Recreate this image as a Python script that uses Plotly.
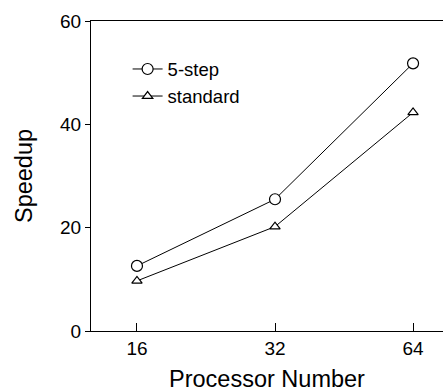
import math
import plotly.graph_objects as go

processors = [16, 32, 64]
speedup_5step = [12.6, 25.5, 51.8]
speedup_standard = [9.7, 20.2, 42.3]
x_tick_labels = ["16", "32", "64"]
y_ticks = [0, 20, 40, 60]

FONT = "Liberation Sans, Arial, sans-serif"

fig = go.Figure()
fig.add_trace(go.Scatter(
    x=processors, y=speedup_5step, name="5-step", mode="lines+markers",
    line=dict(color="black", width=1),
    marker=dict(symbol="circle", size=11, color="white", line=dict(color="black", width=1.2)),
))
fig.add_trace(go.Scatter(
    x=processors, y=speedup_standard, name="standard", mode="lines+markers",
    line=dict(color="black", width=1),
    marker=dict(symbol="triangle-up", size=9, color="white", line=dict(color="black", width=1.2)),
))

lo = math.log10(2 ** 3.667)
hi = math.log10(2 ** 6.217)

fig.update_layout(
    width=443, height=392,
    margin=dict(l=91, r=0, t=21, b=61, autoexpand=False),
    paper_bgcolor="white", plot_bgcolor="white",
    font=dict(family=FONT, color="black", size=19),
    showlegend=True,
    legend=dict(x=0.104, y=0.905, xanchor="left", yanchor="top",
                bgcolor="rgba(0,0,0,0)", borderwidth=0,
                font=dict(size=18.5), tracegroupgap=0, itemwidth=30),
    xaxis=dict(type="log", range=[lo, hi], tickvals=processors, ticktext=x_tick_labels,
               showgrid=False, zeroline=False, showline=True, linecolor="black", linewidth=1.2,
               mirror=True, ticks="inside", ticklen=8, tickcolor="black", automargin=False,
               title=dict(text="Processor Number", font=dict(size=23.5), standoff=12)),
    yaxis=dict(range=[0, 60], tickvals=y_ticks, showgrid=False, zeroline=False,
               showline=True, linecolor="black", linewidth=1.2, mirror=False,
               ticks="outside", ticklen=5, tickcolor="black", automargin=False,
               title=dict(text="Speedup", font=dict(size=23.5), standoff=20)),
)

fig.write_html("out.html", config={"displayModeBar": False},
               post_script="document.body.style.margin='0';document.body.style.overflow='hidden';")
